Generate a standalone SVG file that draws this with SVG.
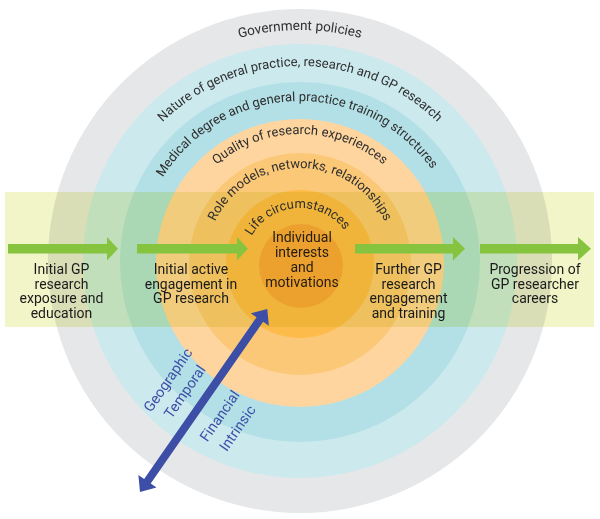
<svg xmlns="http://www.w3.org/2000/svg" width="600" height="519" viewBox="0 0 600 519">
<style>
.arc{font-family:Roboto,"Liberation Sans",sans-serif;font-size:13px;fill:#2e2e2e}
.lbl{font-family:Roboto,"Liberation Sans",sans-serif;font-size:14px;fill:#1a1a1a;text-anchor:middle}
.ctr{font-family:Roboto,"Liberation Sans",sans-serif;font-size:14px;fill:#241c12;text-anchor:middle}
.blu{font-family:Roboto,"Liberation Sans",sans-serif;font-size:14.5px;fill:#3d4ea7;text-anchor:middle}
.garrow{fill:#86c440}
</style>
<defs>
<path id="pGov" d="M68,262 A232,232 0 0 1 532,262"/>
<path id="pNat" d="M104,262 A196,196 0 0 1 496,262"/>
<path id="pMed" d="M139,262 A161,161 0 0 1 461,262"/>
<path id="pQua" d="M172,262 A128,128 0 0 1 428,262"/>
<path id="pRole" d="M206,262 A94,94 0 0 1 394,262"/>
<path id="pLife" d="M244,264 A56,56 0 0 1 356,264"/>
</defs>
<rect width="600" height="519" fill="#ffffff"/>
<g id="ring-government">
<circle cx="300" cy="261" r="252" fill="#e6e7e9"/>
</g>
<g id="ring-nature">
<circle cx="300" cy="261" r="217" fill="#cce9ee"/>
</g>
<g id="ring-medical">
<circle cx="300" cy="262" r="180" fill="#b3e0e6"/>
</g>
<g id="ring-quality">
<circle cx="300" cy="263" r="144" fill="#fed59e"/>
</g>
<g id="ring-role">
<circle cx="300" cy="264" r="111" fill="#fbc878"/>
</g>
<g id="ring-life">
<circle cx="300" cy="264" r="74" fill="#fdbc4a"/>
</g>
<g id="core">
<circle cx="301" cy="266" r="42" fill="#f9a83c"/>
</g>
<rect id="band" x="5" y="192" width="589" height="135" fill="#f2f5c8" style="mix-blend-mode:multiply"/>
<g id="ring-labels">
<text class="arc" style="font-size:13.5px"><textPath href="#pGov" startOffset="50%" text-anchor="middle">Government policies</textPath></text>
<text class="arc"><textPath href="#pNat" startOffset="50%" text-anchor="middle">Nature of general practice, research and GP research</textPath></text>
<text class="arc"><textPath href="#pMed" startOffset="49%" text-anchor="middle">Medical degree and general practice training structures</textPath></text>
<text class="arc"><textPath href="#pQua" startOffset="50%" text-anchor="middle">Quality of research experiences</textPath></text>
<text class="arc"><textPath href="#pRole" startOffset="50%" text-anchor="middle">Role models, networks, relationships</textPath></text>
<text class="arc"><textPath href="#pLife" startOffset="48%" text-anchor="middle">Life circumstances</textPath></text>
</g>
<g id="connectors">
<polygon class="garrow" points="8,244 107,244 107,237 118,248.75 107,260.5 107,253.5 8,253.5"/>
<polygon class="garrow" points="137,244 237,244 237,237 248,248.75 237,260.5 237,253.5 137,253.5"/>
<polygon class="garrow" points="355,244 453,244 453,237 465,248.75 453,260.5 453,253.5 355,253.5"/>
<polygon class="garrow" points="480,244 578,244 578,237 591,248.75 578,260.5 578,253.5 480,253.5"/>
<g id="factors-arrow" transform="translate(140,492) rotate(-55.2)">
<polygon fill="#3d4ea7" points="0,0 13,-11 13,-4 210,-4 210,-11 223,0 210,11 210,4 13,4 13,11"/>
</g>
</g>
<g id="factors" transform="translate(140,492) rotate(-55.2)">
<text class="blu" x="108" y="-36">Geographic</text>
<text class="blu" x="108" y="-15.5">Temporal</text>
<text class="blu" x="108" y="27">Financial</text>
<text class="blu" x="108" y="48.5">Intrinsic</text>
</g>
<g id="stage-1">
<text class="lbl" x="61.5" y="274">Initial GP</text>
<text class="lbl" x="61.5" y="288.5">research</text>
<text class="lbl" x="61.5" y="303">exposure and</text>
<text class="lbl" x="61.5" y="317.5">education</text>
</g>
<g id="stage-2">
<text class="lbl" x="191" y="274">Initial active</text>
<text class="lbl" x="191" y="288.5">engagement in</text>
<text class="lbl" x="191" y="303">GP research</text>
</g>
<g id="individual">
<text class="ctr" x="302" y="242">Individual</text>
<text class="ctr" x="302" y="256.5">interests</text>
<text class="ctr" x="302" y="271.5">and</text>
<text class="ctr" x="302" y="286.5">motivations</text>
</g>
<g id="stage-3">
<text class="lbl" x="408.5" y="274">Further GP</text>
<text class="lbl" x="408.5" y="288.5">research</text>
<text class="lbl" x="408.5" y="303">engagement</text>
<text class="lbl" x="408.5" y="318">and training</text>
</g>
<g id="stage-4">
<text class="lbl" x="535" y="273.5">Progression of</text>
<text class="lbl" x="535" y="288.5">GP researcher</text>
<text class="lbl" x="535" y="303">careers</text>
</g>
</svg>
